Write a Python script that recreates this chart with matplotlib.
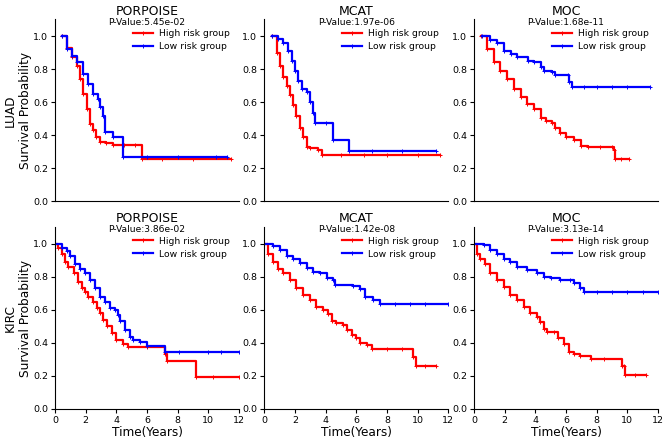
import matplotlib
matplotlib.use('Agg')
import matplotlib.pyplot as plt

# survival step curves (time in years, survival probability)
luad_porpoise_high_t = [0.43, 0.8, 1.1, 1.4, 1.6, 1.85, 2.05, 2.28, 2.5, 2.7, 2.93, 3.3, 3.8, 4.5, 5.2, 5.65, 7.0, 9.0, 11.45]
luad_porpoise_high_s = [1.0, 0.93, 0.87, 0.82, 0.74, 0.65, 0.56, 0.47, 0.43, 0.39, 0.36, 0.35, 0.34, 0.34, 0.34, 0.257, 0.257, 0.257, 0.257]
luad_porpoise_low_t = [0.43, 0.76, 1.1, 1.41, 1.85, 2.17, 2.5, 2.83, 2.93, 3.15, 3.26, 3.8, 4.46, 6.0, 8.0, 10.5, 11.2]
luad_porpoise_low_s = [1.0, 0.92, 0.88, 0.84, 0.77, 0.71, 0.65, 0.62, 0.57, 0.515, 0.42, 0.39, 0.27, 0.27, 0.27, 0.27, 0.27]

luad_mcat_high_t = [0.48, 0.8, 1.02, 1.24, 1.46, 1.67, 1.89, 2.1, 2.3, 2.54, 2.76, 2.98, 3.5, 3.76, 5.0, 6.5, 8.0, 10.0, 11.45]
luad_mcat_high_s = [1.0, 0.90, 0.82, 0.75, 0.70, 0.64, 0.58, 0.515, 0.44, 0.39, 0.33, 0.32, 0.31, 0.277, 0.277, 0.277, 0.277, 0.277, 0.277]
luad_mcat_low_t = [0.48, 0.91, 1.24, 1.57, 1.78, 2.0, 2.2, 2.43, 2.76, 2.98, 3.2, 3.3, 4.0, 4.5, 5.5, 7.0, 9.0, 11.2]
luad_mcat_low_s = [1.0, 0.98, 0.96, 0.91, 0.85, 0.79, 0.73, 0.68, 0.66, 0.60, 0.535, 0.475, 0.475, 0.37, 0.305, 0.305, 0.305, 0.305]

luad_moc_high_t = [0.46, 0.85, 1.29, 1.72, 2.16, 2.6, 3.04, 3.48, 3.9, 4.35, 4.7, 5.1, 5.3, 5.6, 6.0, 6.5, 7.0, 7.4, 8.2, 9.0, 9.1, 9.2, 9.6, 10.1]
luad_moc_high_s = [1.0, 0.92, 0.84, 0.79, 0.74, 0.68, 0.63, 0.59, 0.556, 0.505, 0.485, 0.475, 0.44, 0.41, 0.39, 0.37, 0.336, 0.33, 0.33, 0.33, 0.31, 0.255, 0.255, 0.255]
luad_moc_low_t = [0.5, 1.07, 1.5, 1.94, 2.38, 2.8, 3.5, 3.9, 4.35, 4.57, 5.1, 5.3, 6.1, 6.2, 6.4, 7.2, 8.0, 9.0, 10.0, 11.5]
luad_moc_low_s = [1.0, 0.975, 0.955, 0.91, 0.89, 0.87, 0.85, 0.84, 0.81, 0.79, 0.785, 0.765, 0.765, 0.72, 0.69, 0.69, 0.69, 0.69, 0.69, 0.69]

kirc_porpoise_high_t = [0.0, 0.22, 0.43, 0.65, 0.87, 1.2, 1.52, 1.74, 1.96, 2.17, 2.5, 2.72, 2.93, 3.15, 3.37, 3.7, 4.0, 4.46, 4.78, 6.0, 7.17, 7.28, 9.2, 10.3, 12.0]
kirc_porpoise_high_s = [1.0, 0.975, 0.94, 0.89, 0.86, 0.82, 0.77, 0.73, 0.71, 0.68, 0.65, 0.61, 0.58, 0.54, 0.50, 0.46, 0.415, 0.39, 0.375, 0.375, 0.335, 0.29, 0.195, 0.195, 0.195]
kirc_porpoise_low_t = [0.0, 0.43, 0.76, 0.98, 1.3, 1.63, 1.96, 2.28, 2.6, 2.93, 3.26, 3.6, 3.9, 4.13, 4.24, 4.57, 4.9, 5.1, 5.54, 6.0, 7.17, 8.1, 10.0, 10.8, 12.0]
kirc_porpoise_low_s = [1.0, 0.975, 0.955, 0.925, 0.88, 0.85, 0.82, 0.78, 0.73, 0.68, 0.65, 0.61, 0.60, 0.57, 0.53, 0.48, 0.435, 0.42, 0.405, 0.38, 0.345, 0.345, 0.345, 0.345, 0.345]

kirc_mcat_high_t = [0.0, 0.26, 0.59, 0.91, 1.24, 1.67, 2.1, 2.54, 2.98, 3.4, 3.85, 4.17, 4.4, 4.7, 5.15, 5.37, 5.7, 6.0, 6.24, 6.67, 7.0, 8.0, 9.0, 9.7, 9.9, 10.5, 11.2]
kirc_mcat_high_s = [1.0, 0.94, 0.89, 0.85, 0.82, 0.78, 0.73, 0.69, 0.66, 0.62, 0.60, 0.575, 0.535, 0.52, 0.51, 0.48, 0.45, 0.43, 0.40, 0.385, 0.365, 0.365, 0.365, 0.315, 0.26, 0.26, 0.26]
kirc_mcat_low_t = [0.0, 0.59, 1.0, 1.46, 1.9, 2.33, 2.76, 3.2, 3.63, 4.07, 4.5, 4.6, 5.8, 6.24, 6.57, 7.1, 7.54, 8.5, 9.5, 10.5, 12.0]
kirc_mcat_low_s = [1.0, 0.985, 0.965, 0.925, 0.905, 0.885, 0.855, 0.83, 0.82, 0.79, 0.78, 0.75, 0.745, 0.725, 0.68, 0.66, 0.635, 0.635, 0.635, 0.635, 0.635]

kirc_moc_high_t = [0.0, 0.2, 0.41, 0.74, 1.07, 1.5, 1.93, 2.37, 2.8, 3.24, 3.67, 4.1, 4.3, 4.54, 4.76, 5.2, 5.5, 5.85, 6.17, 6.5, 6.93, 7.6, 8.5, 9.65, 9.75, 9.87, 10.5, 11.2]
kirc_moc_high_s = [1.0, 0.94, 0.91, 0.88, 0.82, 0.78, 0.74, 0.69, 0.66, 0.62, 0.58, 0.555, 0.525, 0.485, 0.465, 0.465, 0.43, 0.395, 0.345, 0.335, 0.32, 0.30, 0.30, 0.26, 0.26, 0.205, 0.205, 0.205]
kirc_moc_low_t = [0.0, 0.63, 1.07, 1.5, 1.93, 2.37, 2.8, 3.46, 4.1, 4.54, 5.0, 5.63, 6.28, 6.5, 6.93, 7.15, 8.0, 9.0, 10.0, 11.0, 12.0]
kirc_moc_low_s = [1.0, 0.99, 0.96, 0.94, 0.91, 0.89, 0.86, 0.84, 0.82, 0.80, 0.79, 0.78, 0.78, 0.76, 0.73, 0.71, 0.71, 0.71, 0.71, 0.71, 0.71]

cancers = ['LUAD', 'KIRC']
models = ['PORPOISE', 'MCAT', 'MOC']
p_values = [['5.45e-02', '1.97e-06', '1.68e-11'],
            ['3.86e-02', '1.42e-08', '3.13e-14']]

curves = [
    [(luad_porpoise_high_t, luad_porpoise_high_s, luad_porpoise_low_t, luad_porpoise_low_s),
     (luad_mcat_high_t, luad_mcat_high_s, luad_mcat_low_t, luad_mcat_low_s),
     (luad_moc_high_t, luad_moc_high_s, luad_moc_low_t, luad_moc_low_s)],
    [(kirc_porpoise_high_t, kirc_porpoise_high_s, kirc_porpoise_low_t, kirc_porpoise_low_s),
     (kirc_mcat_high_t, kirc_mcat_high_s, kirc_mcat_low_t, kirc_mcat_low_s),
     (kirc_moc_high_t, kirc_moc_high_s, kirc_moc_low_t, kirc_moc_low_s)],
]


def draw_panel(ax, row, col):
    '''Draws one Kaplan-Meier style panel'''
    high_t, high_s, low_t, low_s = curves[row][col]
    ax.plot(high_t, high_s, color='red', lw=1.6, drawstyle='steps-post',
            marker='+', ms=3, mew=0.7, label='High risk group')
    ax.plot(low_t, low_s, color='blue', lw=1.6, drawstyle='steps-post',
            marker='+', ms=3, mew=0.7, label='Low risk group')
    ax.set_xlim(0, 12)
    ax.set_ylim(0, 1.1)
    ax.set_yticks([0.0, 0.2, 0.4, 0.6, 0.8, 1.0])
    ax.tick_params(labelsize=6.8, length=3, pad=2)
    ax.spines['top'].set_visible(False)
    ax.spines['right'].set_visible(False)
    ax.set_title(models[col], fontsize=9, pad=3.5)
    ax.text(0.5, 0.985, 'P-Value:' + p_values[row][col], transform=ax.transAxes,
            ha='center', va='center', fontsize=6.6)
    ax.legend(loc='upper right', frameon=False, fontsize=6.7, handlelength=2.2,
              handletextpad=0.6, labelspacing=0.45, borderaxespad=0.6)
    if row == 0:
        ax.set_xticks([])
    else:
        ax.set_xticks([0, 2, 4, 6, 8, 10, 12])
        ax.set_xlabel('Time(Years)', fontsize=8.7, labelpad=1)
    if col == 0:
        ax.set_ylabel(cancers[row] + '\nSurvival Probability', fontsize=8.7, labelpad=1)


def main():
    fig = plt.figure(figsize=(6.64, 4.43), dpi=100)
    lefts = [0.083, 0.398, 0.714]
    bottoms = [0.546, 0.077]
    for row in range(2):
        for col in range(3):
            ax = fig.add_axes([lefts[col], bottoms[row], 0.277, 0.41])
            draw_panel(ax, row, col)
    fig.savefig('out.png', dpi=100)


if __name__ == '__main__':
    main()
